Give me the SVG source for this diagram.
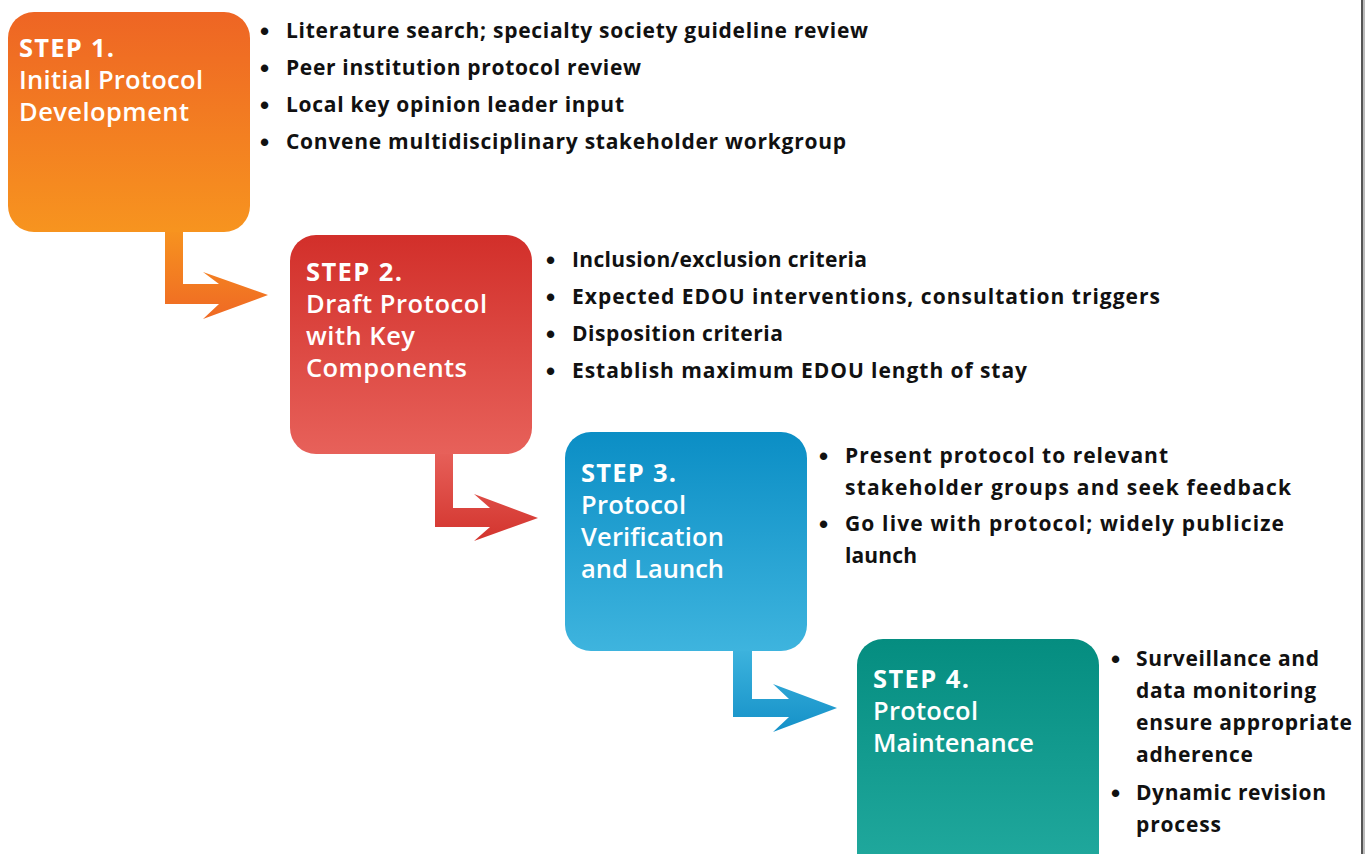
<svg xmlns="http://www.w3.org/2000/svg" width="1365" height="854" viewBox="0 0 1365 854">
<defs>
<linearGradient id="g1" x1="0" y1="0" x2="0" y2="1"><stop offset="0" stop-color="#EE6524"/><stop offset="1" stop-color="#F7941F"/></linearGradient>
<linearGradient id="g2" x1="0" y1="0" x2="0" y2="1"><stop offset="0" stop-color="#D22F2A"/><stop offset="1" stop-color="#E7615A"/></linearGradient>
<linearGradient id="g3" x1="0" y1="0" x2="0" y2="1"><stop offset="0" stop-color="#0B8EC5"/><stop offset="1" stop-color="#3EB4DE"/></linearGradient>
<linearGradient id="g4" x1="0" y1="0" x2="0" y2="1"><stop offset="0" stop-color="#058D80"/><stop offset="1" stop-color="#22AA9F"/></linearGradient>
<linearGradient id="a1" x1="0" y1="0" x2="0" y2="1"><stop offset="0" stop-color="#F7941F"/><stop offset="1" stop-color="#EF6924"/></linearGradient>
<linearGradient id="a2" x1="0" y1="0" x2="0" y2="1"><stop offset="0" stop-color="#E7615A"/><stop offset="1" stop-color="#D3342E"/></linearGradient>
<linearGradient id="a3" x1="0" y1="0" x2="0" y2="1"><stop offset="0" stop-color="#3EB4DE"/><stop offset="1" stop-color="#1591C8"/></linearGradient>
<style>
.t{font-family:"Open Sans",Lato,"Liberation Sans",sans-serif;font-size:25.5px;fill:#fff;font-weight:600}
.s{font-weight:700}
.b{font-family:"Open Sans",Lato,"Liberation Sans",sans-serif;font-size:21px;font-weight:700;fill:#111}
.d{font-family:"Liberation Sans",sans-serif;font-size:26px;font-weight:700;fill:#111}
</style>
</defs>
<rect x="0" y="0" width="1365" height="854" fill="#fff"/>
<g id="connectors">
<path d="M165,228 L183,228 L183,284 L219,284 L203,272 L268,295 L203,319 L219,304 L165,304 Z" fill="url(#a1)"/>
<path d="M435,450 L453,450 L453,508 L490,508 L474,494 L538,518 L474,541 L490,527 L435,527 Z" fill="url(#a2)"/>
<path d="M733,647 L752,647 L752,699 L789,699 L773,684 L837,708 L773,732 L789,717 L733,717 Z" fill="url(#a3)"/>
</g>
<g id="step1">
<rect x="8" y="12" width="242" height="220" rx="26" fill="url(#g1)"/>
<text class="t s" x="19" y="57" textLength="95" lengthAdjust="spacing">STEP 1.</text>
<text class="t" x="19" y="89" textLength="184" lengthAdjust="spacing">Initial Protocol</text>
<text class="t" x="19" y="121" textLength="170" lengthAdjust="spacing">Development</text>
<text class="d" x="260" y="40">•</text><text class="b" x="286" y="38" textLength="582" lengthAdjust="spacing">Literature search; specialty society guideline review</text>
<text class="d" x="260" y="77">•</text><text class="b" x="286" y="75" textLength="355" lengthAdjust="spacing">Peer institution protocol review</text>
<text class="d" x="260" y="114">•</text><text class="b" x="286" y="112" textLength="338" lengthAdjust="spacing">Local key opinion leader input</text>
<text class="d" x="260" y="151">•</text><text class="b" x="286" y="149" textLength="560" lengthAdjust="spacing">Convene multidisciplinary stakeholder workgroup</text>
</g>
<g id="step2">
<rect x="290" y="235" width="242" height="219" rx="26" fill="url(#g2)"/>
<text class="t s" x="306" y="281" textLength="96" lengthAdjust="spacing">STEP 2.</text>
<text class="t" x="306" y="313" textLength="181" lengthAdjust="spacing">Draft Protocol</text>
<text class="t" x="306" y="345" textLength="109" lengthAdjust="spacing">with Key</text>
<text class="t" x="306" y="377" textLength="161" lengthAdjust="spacing">Components</text>
<text class="d" x="546" y="269">•</text><text class="b" x="572" y="267" textLength="295" lengthAdjust="spacing">Inclusion/exclusion criteria</text>
<text class="d" x="546" y="306">•</text><text class="b" x="572" y="304" textLength="588" lengthAdjust="spacing">Expected EDOU interventions, consultation triggers</text>
<text class="d" x="546" y="343">•</text><text class="b" x="572" y="341" textLength="211" lengthAdjust="spacing">Disposition criteria</text>
<text class="d" x="546" y="380">•</text><text class="b" x="572" y="378" textLength="455" lengthAdjust="spacing">Establish maximum EDOU length of stay</text>
</g>
<g id="step3">
<rect x="565" y="432" width="242" height="219" rx="26" fill="url(#g3)"/>
<text class="t s" x="581" y="482" textLength="95" lengthAdjust="spacing">STEP 3.</text>
<text class="t" x="581" y="514" textLength="105" lengthAdjust="spacing">Protocol</text>
<text class="t" x="581" y="546" textLength="143" lengthAdjust="spacing">Verification</text>
<text class="t" x="581" y="578" textLength="143" lengthAdjust="spacing">and Launch</text>
<text class="d" x="819" y="465">•</text><text class="b" x="845" y="463" textLength="323" lengthAdjust="spacing">Present protocol to relevant</text>
<text class="b" x="845" y="495" textLength="446" lengthAdjust="spacing">stakeholder groups and seek feedback</text>
<text class="d" x="819" y="533">•</text><text class="b" x="845" y="531" textLength="439" lengthAdjust="spacing">Go live with protocol; widely publicize</text>
<text class="b" x="845" y="563" textLength="72" lengthAdjust="spacing">launch</text>
</g>
<g id="step4">
<rect x="857" y="639" width="242" height="240" rx="26" fill="url(#g4)"/>
<text class="t s" x="873" y="688" textLength="96" lengthAdjust="spacing">STEP 4.</text>
<text class="t" x="873" y="720" textLength="105" lengthAdjust="spacing">Protocol</text>
<text class="t" x="873" y="752" textLength="161" lengthAdjust="spacing">Maintenance</text>
<text class="d" x="1111" y="668">•</text><text class="b" x="1136" y="666" textLength="183" lengthAdjust="spacing">Surveillance and</text>
<text class="b" x="1136" y="698" textLength="180" lengthAdjust="spacing">data monitoring</text>
<text class="b" x="1136" y="730" textLength="216" lengthAdjust="spacing">ensure appropriate</text>
<text class="b" x="1136" y="762" textLength="117" lengthAdjust="spacing">adherence</text>
<text class="d" x="1111" y="802">•</text><text class="b" x="1136" y="800" textLength="190" lengthAdjust="spacing">Dynamic revision</text>
<text class="b" x="1136" y="832" textLength="85" lengthAdjust="spacing">process</text>
</g>
<rect x="1361" y="0" width="2" height="854" fill="#555"/>
<rect x="1363" y="0" width="2" height="854" fill="#bbb"/>
</svg>
